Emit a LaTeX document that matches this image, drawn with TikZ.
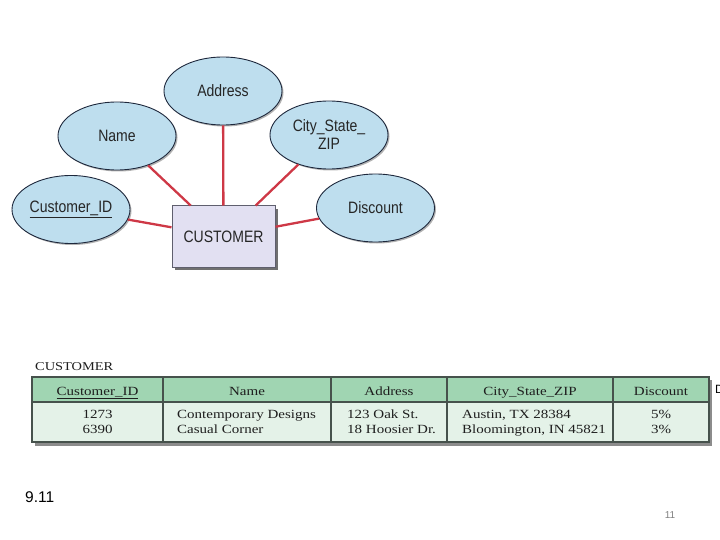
\documentclass[tikz,border=0pt]{standalone}
\usepackage{fontspec}
\setmainfont{Liberation Serif}
\newfontfamily\sansf{Liberation Sans}
\newfontfamily\narrowf[FakeStretch=0.85]{Liberation Sans}
\newfontfamily\widef[FakeStretch=1.2]{Liberation Serif}
\usetikzlibrary{shapes.geometric,shadows}
\definecolor{ellfill}{RGB}{190,222,238}
\definecolor{ellline}{RGB}{30,40,60}
\definecolor{conn}{RGB}{206,56,70}
\definecolor{entfill}{RGB}{226,224,242}
\definecolor{entline}{RGB}{95,95,110}
\definecolor{hdrfill}{RGB}{160,213,178}
\definecolor{datfill}{RGB}{228,242,232}
\definecolor{tabline}{RGB}{70,82,76}
\definecolor{tabtext}{RGB}{30,30,30}
\tikzset{
  attr/.style={ellipse, draw=ellline, line width=0.9pt, fill=ellfill,
    minimum width=118pt, minimum height=68pt, inner sep=0pt, align=center,
    font=\narrowf\fontsize{16.5}{18}\selectfont, text=black!85,
    drop shadow={shadow xshift=1.5pt, shadow yshift=-1.5pt, fill=black!60, opacity=.5}},
  entity/.style={rectangle, draw=entline, line width=1pt, fill=entfill,
    minimum width=103pt, minimum height=61pt, inner sep=0pt,
    font=\narrowf\fontsize{16.5}{17}\selectfont, text=black!85,
    drop shadow={shadow xshift=3pt, shadow yshift=-3pt, fill=black!70, opacity=.8}},
  link/.style={draw=conn, line width=2.3pt},
  tabtxt/.style={font=\widef\fontsize{12.5}{14}\selectfont, text=tabtext, inner sep=0pt},
  tc/.style={tabtxt, anchor=base},
  tl/.style={tabtxt, anchor=base west},
  tabline/.style={draw=tabline, line width=1.4pt},
}
\begin{document}
\begin{tikzpicture}[x=1pt,y=-1pt]
\useasboundingbox (0,0) rectangle (720,540);
% ER diagram
\node[entity] (cust) at (223.5,236.5) {CUSTOMER};
\node[attr] (addr) at (223,91) {Address};
\node[attr] (name) at (117,136) {Name};
\node[attr] (city) at (329,135) {City\_State\_\\ZIP};
\node[attr] (cid) at (71,209.5) {\underline{Customer\_ID}};
\node[attr] (disc) at (375.5,208) {Discount};
\draw[link] (addr) -- (cust);
\draw[link] (name) -- (cust);
\draw[link] (city) -- (cust);
\draw[link] (cid) -- (cust);
\draw[link] (disc) -- (cust);
% table
\node[tl, font=\widef\fontsize{12}{14}\selectfont] (ttl) at (35,370) {CUSTOMER};
\fill[black!45] (35,380) rectangle (712,446);
\fill[hdrfill] (32,377) rectangle (709,402);
\fill[datfill] (32,402) rectangle (709,442);
\draw[tabline] (32,377) rectangle (709,442);
\draw[tabline] (32,402) -- (709,402);
\foreach \xx in {163,331,447,613} \draw[tabline] (\xx,377) -- (\xx,442);
\node[tc] (h1) at (97.5,395) {\underline{Customer\_ID}};
\node[tc] (h2) at (247,395) {Name};
\node[tc] (h3) at (389,395) {Address};
\node[tc] (h4) at (530,395) {City\_State\_ZIP};
\node[tc] (h5) at (661,395) {Discount};
\node[tc] (d1a) at (97.5,418) {1273};
\node[tc] (d1b) at (97.5,433) {6390};
\node[tl] (d2a) at (177,418) {Contemporary Designs};
\node[tl] (d2b) at (177,433) {Casual Corner};
\node[tl] (d3a) at (347,418) {123 Oak St.};
\node[tl] (d3b) at (347,433) {18 Hoosier Dr.};
\node[tl] (d4a) at (462,418) {Austin, TX 28384};
\node[tl] (d4b) at (462,433) {Bloomington, IN 45821};
\node[tc] (d5a) at (661,418) {5\%};
\node[tc] (d5b) at (661,433) {3\%};
\node[anchor=west, inner sep=0pt, font=\sansf\fontsize{12}{13}\selectfont] (cut) at (715,389) {D};
% footer
\node[anchor=west, inner sep=0pt, font=\sansf\fontsize{15.5}{16}\selectfont] (fig) at (25,497) {9.11};
\node[anchor=center, inner sep=0pt, text=black!50, font=\sansf\fontsize{10}{11}\selectfont] (pg) at (670,515) {11};
\end{tikzpicture}
\end{document}
